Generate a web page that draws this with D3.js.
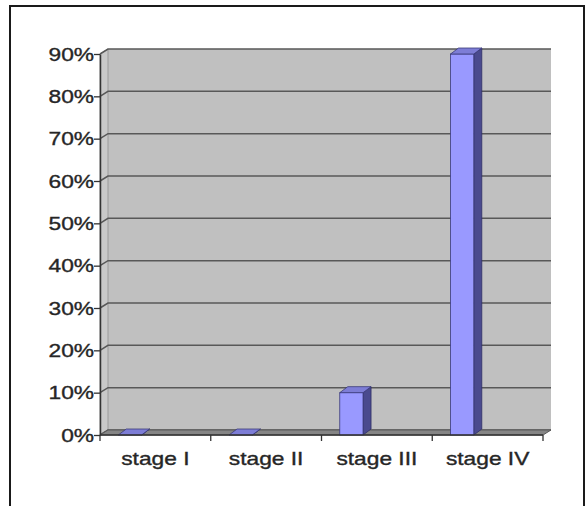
<!DOCTYPE html>
<html>
<head>
<meta charset="utf-8">
<script src="https://cdn.jsdelivr.net/npm/d3@7"></script>
<style>
  html, body { margin: 0; padding: 0; background: #fff; }
  svg { display: block; }
</style>
</head>
<body>
<svg id="chart" width="588" height="506"></svg>
<script>
// Share of cases by stage
const categories = ["stage I", "stage II", "stage III", "stage IV"];
const values = [0, 0, 10, 90];
const yTickValues = [0, 10, 20, 30, 40, 50, 60, 70, 80, 90];

const svg = d3.select("#chart");

// 3D depth offset between the front plane and the back wall
const DX = 8, DY = -5;
const stretch = 1.23;           // wide type used by the labels
const fontSize = 18.5;
const labelFont = "'Liberation Sans', Arial, sans-serif";

// Scales: x on the front plane, y on the back wall
const x = d3.scaleBand().domain(categories).range([100, 543]);
const yBack = d3.scaleLinear().domain([0, 90]).range([430, 49]);
const yFront = v => yBack(v) - DY;

const x0 = x.range()[0], x1 = x.range()[1];
const pts = arr => arr.map(p => p.join(",")).join(" ");

// outer frame
svg.append("rect")
  .attr("x", 10).attr("y", 6)
  .attr("width", 574).attr("height", 530)
  .attr("fill", "none").attr("stroke", "#1a1a1a").attr("stroke-width", 2);

// back wall
svg.append("rect")
  .attr("x", x0 + DX).attr("y", yBack(90))
  .attr("width", x1 - x0).attr("height", yBack(0) - yBack(90))
  .attr("fill", "#c0c0c0");

// left side wall
svg.append("polygon")
  .attr("points", pts([
    [x0, yFront(90)], [x0 + DX, yBack(90)],
    [x0 + DX, yBack(0)], [x0, yFront(0)]
  ]))
  .attr("fill", "#c9c9c9").attr("stroke", "#9a9a9a").attr("stroke-width", 1);

// gridlines: across the side wall then along the back wall
const grid = svg.append("g");
yTickValues.forEach(v => {
  grid.append("polyline")
    .attr("points", pts([[x0, yFront(v)], [x0 + DX, yBack(v)], [x1 + DX, yBack(v)]]))
    .attr("fill", "none")
    .attr("stroke", "#585858")
    .attr("stroke-width", 1.5);
});

// floor
svg.append("polygon")
  .attr("points", pts([
    [x0, yFront(0)], [x1, yFront(0)],
    [x1 + DX, yBack(0)], [x0 + DX, yBack(0)]
  ]))
  .attr("fill", "#858585").attr("stroke", "#5a5a5a").attr("stroke-width", 1);

// bars as 3D columns
const bw = x.bandwidth();
const barG = svg.append("g");
categories.forEach((c, i) => {
  const v = values[i];
  const bx = x(c) + bw * 0.165;
  const w = bw * 0.21;
  const yt = yFront(v);
  const yb = yFront(0);
  const dx = DX, dy = -6;
  // side face
  barG.append("polygon")
    .attr("points", pts([[bx + w, yt], [bx + w + dx, yt + dy], [bx + w + dx, yb + dy], [bx + w, yb]]))
    .attr("fill", "#4a4a8e").attr("stroke", "#2e2e66").attr("stroke-width", 0.8);
  // front face
  barG.append("rect")
    .attr("x", bx).attr("y", yt)
    .attr("width", w).attr("height", yb - yt)
    .attr("fill", "#9999ff").attr("stroke", "#3a3a7a").attr("stroke-width", 0.8);
  // top face
  barG.append("polygon")
    .attr("points", pts([[bx, yt], [bx + w, yt], [bx + w + dx, yt + dy], [bx + dx, yt + dy]]))
    .attr("fill", "#7d7dd6").attr("stroke", "#3a3a7a").attr("stroke-width", 0.8);
});

// y axis on the front plane
const yAxisScale = d3.scaleLinear().domain([0, 90]).range([yFront(0), yFront(90)]);
const yAxis = svg.append("g")
  .attr("transform", `translate(${x0},0)`)
  .call(d3.axisLeft(yAxisScale).tickValues(yTickValues).tickSize(6).tickSizeOuter(0)
    .tickFormat(d => d + "%"));
yAxis.select(".domain").attr("stroke", "#333").attr("stroke-width", 1.5);
yAxis.selectAll(".tick line").attr("stroke", "#333").attr("stroke-width", 1.3);
yAxis.selectAll(".tick text")
  .attr("x", -6 / stretch)
  .attr("dy", "0.34em")
  .attr("transform", `scale(${stretch},1)`)
  .attr("font-family", labelFont)
  .attr("font-size", fontSize)
  .attr("fill", "#262626")
  .attr("stroke", "#262626").attr("stroke-width", 0.35);

// x axis: front floor edge with category boundary ticks
svg.append("line")
  .attr("x1", x0).attr("x2", x1)
  .attr("y1", yFront(0)).attr("y2", yFront(0))
  .attr("stroke", "#333").attr("stroke-width", 1.5);
categories.map(c => x(c)).concat([x1]).forEach(tx => {
  svg.append("line")
    .attr("x1", tx).attr("x2", tx)
    .attr("y1", yFront(0)).attr("y2", yFront(0) + 6)
    .attr("stroke", "#333").attr("stroke-width", 1.3);
});
const xAxis = svg.append("g")
  .attr("transform", `translate(0,${yFront(0)})`)
  .call(d3.axisBottom(x).tickSize(0).tickPadding(17));
xAxis.select(".domain").remove();
xAxis.selectAll(".tick text")
  .attr("transform", `scale(${stretch},1)`)
  .attr("font-family", labelFont)
  .attr("font-size", fontSize)
  .attr("fill", "#262626")
  .attr("stroke", "#262626").attr("stroke-width", 0.35);
</script>
</body>
</html>
